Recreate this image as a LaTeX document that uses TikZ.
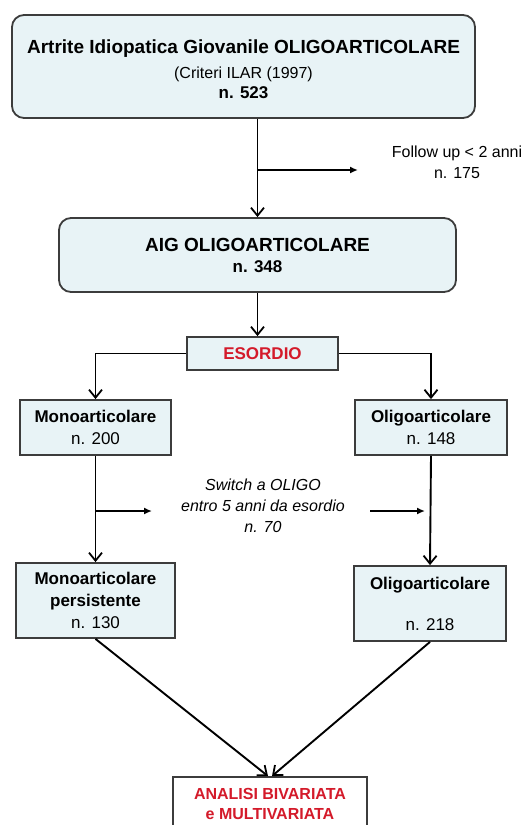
\documentclass[tikz,border=0pt]{standalone}
\usepackage{fontspec}
\setmainfont{Liberation Sans}
\usetikzlibrary{arrows.meta}
\usetikzlibrary{positioning}
\definecolor{boxfill}{HTML}{E8F3F6}
\definecolor{boxline}{HTML}{3C3C3C}
\definecolor{esred}{HTML}{D41A2A}
\newcommand{\LW}{1.8pt}
\newcommand{\FB}{\fontsize{17}{22}\selectfont}
\newcommand{\FS}{\fontsize{16}{21}\selectfont}

\begin{document}
\begin{tikzpicture}[x=1pt,y=-1pt,
    box/.style={draw=boxline,fill=boxfill,line width=\LW,align=center,inner sep=0pt,font=\FB},
    rbox/.style={box,rounded corners=12pt},
    flow/.style={-{Straight Barb[length=8pt,width=13pt,line width=1.8pt]},line width=1.9pt},
    side/.style={-{Latex[length=8pt,width=7pt]},line width=1.6pt}]
    \useasboundingbox (0,0) rectangle (529,825);
    \clip (0,0) rectangle (529,825);

    % boxes
    \node[rbox,minimum width=463pt,minimum height=103pt] (top) at (243.5,66.5)
        {\rule{0pt}{20pt}{\fontsize{19}{23}\selectfont\bfseries Artrite Idiopatica Giovanile OLIGOARTICOLARE}\\[3pt]
         {\FS (Criteri ILAR (1997)}\\[-2pt]
         {\bfseries n. 523}};
    \node[rbox,minimum width=397pt,minimum height=74pt] (aig) at (257.5,255)
        {{\fontsize{19}{23}\selectfont\bfseries AIG OLIGOARTICOLARE}\\[-1pt]
         {\bfseries n. 348}};
    \node[box,minimum width=151pt,minimum height=33pt,text=esred,font=\FB\bfseries] (esordio) at (262.5,353.5) {ESORDIO};
    \node[box,minimum width=151pt,minimum height=55pt] (mono) at (95.5,427.5)
        {{\bfseries Monoarticolare}\\n. 200};
    \node[box,minimum width=152pt,minimum height=55pt] (oligo) at (431,427.5)
        {{\bfseries Oligoarticolare}\\n. 148};
    \node[box,minimum width=159pt,minimum height=75pt] (monop) at (95.5,600.5)
        {{\bfseries Monoarticolare}\\{\bfseries persistente}\\n. 130};
    \node[box,minimum width=152pt,minimum height=75pt] (oligop) at (430,603.5)
        {{\bfseries Oligoarticolare}\\[19pt]n. 218};
    \node[box,fill=white,minimum width=194pt,minimum height=54pt,text=esred,font=\FS\bfseries] (analisi) at (270,804)
        {ANALISI BIVARIATA\\[-1pt]e MULTIVARIATA};

    % side texts
    \node[align=center,font=\FS,inner sep=0pt] (follow) at (457,162) {Follow up {<} 2 anni\\n. 175};
    \node[align=center,font=\FS\itshape,inner sep=0pt] (switch) at (263,506)
        {Switch a OLIGO\\entro 5 anni da esordio\\n. 70};
    \coordinate (fu) at (358,170);
    \coordinate (swl) at (152,511);
    \coordinate (swr) at (370,511);

    % connectors
    \draw[flow] (top.south -| aig.north) -- (aig.north);
    \draw[side] (fu -| aig.north) -- (fu);
    \draw[flow] (aig.south) -- (aig.south |- esordio.north);
    \draw[flow] (esordio.west) -| (mono.north);
    \draw[flow] (esordio.east) -| (oligo.north);
    \draw[flow] (mono.south) -- (monop.north);
    \draw[flow] (oligo.south) -- (oligop.north);
    \draw[side] (swl -| mono.south) -- (swl);
    \draw[side,shorten >=5pt] (swr) -- (swr -| oligop.north);
    \draw[flow] (monop.south) -- ([xshift=-2pt]analisi.north);
    \draw[flow] (oligop.south) -- ([xshift=2pt]analisi.north);
\end{tikzpicture}
\end{document}
